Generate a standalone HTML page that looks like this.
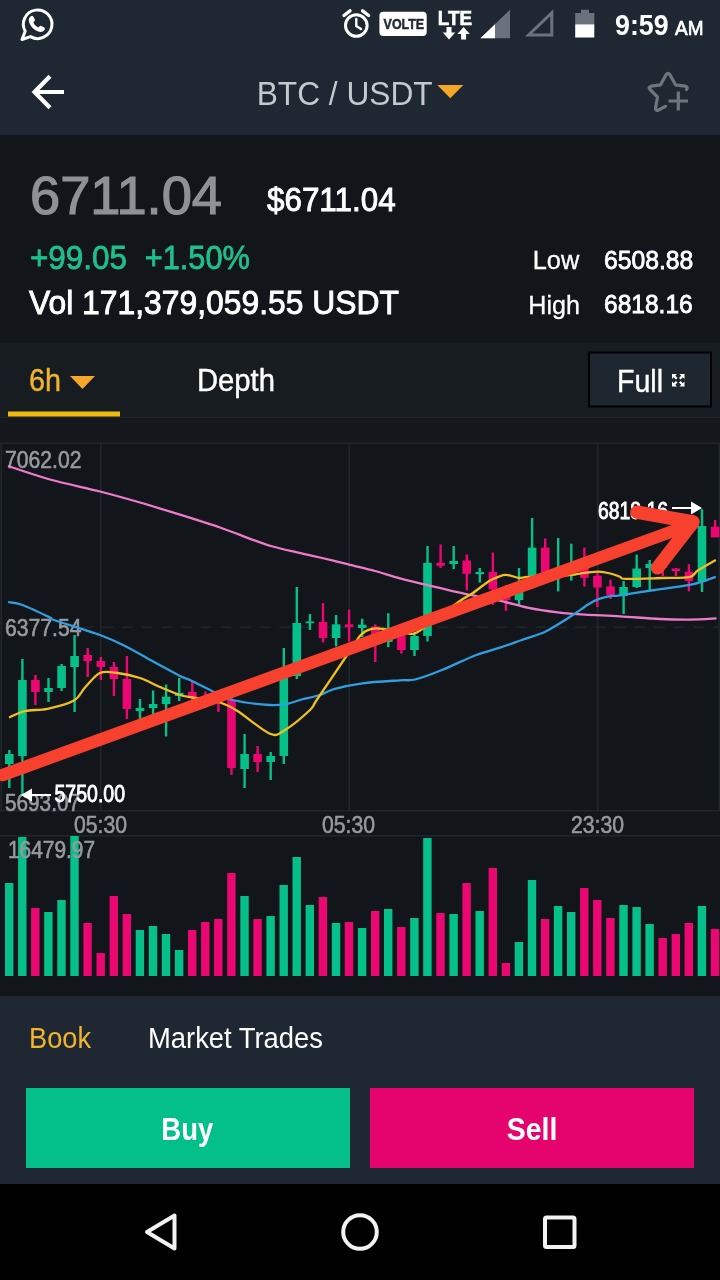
<!DOCTYPE html>
<html><head><meta charset="utf-8"><title>BTC / USDT</title>
<style>
*{margin:0;padding:0;box-sizing:border-box}
html,body{width:720px;height:1280px;overflow:hidden;background:#12161b}
body{position:relative;font-family:"Liberation Sans",sans-serif;color:#fff}
.hdr{position:absolute;left:0;top:0;width:720px;height:135px;background:#1f2832}
.info{position:absolute;left:0;top:135px;width:720px;height:208px;background:#12161b}
.tabs{position:absolute;left:0;top:343px;width:720px;height:74px;background:#171c21}
.chart{position:absolute;left:0;top:417px}
.panel{position:absolute;left:0;top:996px;width:720px;height:188px;background:#1f2832}
.nav{position:absolute;left:0;top:1184px;width:720px;height:96px;background:#000}
.ov{position:absolute;left:0;top:0}
</style></head><body>
<div class="hdr"></div>
<div class="info"></div>
<div class="tabs"></div>
<svg class="chart" width="720" height="580" viewBox="0 417 720 580">
<rect x="0" y="417" width="720" height="26" fill="#14181d"/>
<rect x="0" y="417" width="720" height="1" fill="#20252b"/>
<g fill="#21262b">
<rect x="0" y="442.5" width="720" height="1.5"/>
<rect x="0" y="810" width="720" height="1.5"/>
<rect x="0" y="835" width="720" height="1.5"/>
<rect x="0.5" y="443" width="1.5" height="368"/>
<rect x="100" y="443" width="1.5" height="368"/>
<rect x="348.5" y="443" width="1.5" height="368"/>
<rect x="597" y="443" width="1.5" height="368"/>
<rect x="718.5" y="443" width="1.5" height="368"/>
</g>
<line x1="82.5" y1="627.2" x2="720" y2="627.2" stroke="#1e2329" stroke-width="2" stroke-dasharray="11 8.7"/>
<rect x="5.0" y="883" width="8.4" height="93" fill="#05c088"/>
<rect x="18.1" y="837" width="8.4" height="139" fill="#05c088"/>
<rect x="31.1" y="908" width="8.4" height="68" fill="#ea0772"/>
<rect x="44.2" y="912" width="8.4" height="64" fill="#05c088"/>
<rect x="57.3" y="900" width="8.4" height="76" fill="#05c088"/>
<rect x="70.3" y="836" width="8.4" height="140" fill="#05c088"/>
<rect x="83.4" y="923" width="8.4" height="53" fill="#ea0772"/>
<rect x="96.5" y="953" width="8.4" height="23" fill="#ea0772"/>
<rect x="109.6" y="896" width="8.4" height="80" fill="#ea0772"/>
<rect x="122.6" y="914" width="8.4" height="62" fill="#ea0772"/>
<rect x="135.7" y="930" width="8.4" height="46" fill="#05c088"/>
<rect x="148.8" y="926" width="8.4" height="50" fill="#05c088"/>
<rect x="161.8" y="934" width="8.4" height="42" fill="#05c088"/>
<rect x="174.9" y="950" width="8.4" height="26" fill="#05c088"/>
<rect x="188.0" y="930" width="8.4" height="46" fill="#ea0772"/>
<rect x="201.1" y="922" width="8.4" height="54" fill="#ea0772"/>
<rect x="214.1" y="919" width="8.4" height="57" fill="#ea0772"/>
<rect x="227.2" y="873" width="8.4" height="103" fill="#ea0772"/>
<rect x="240.3" y="896" width="8.4" height="80" fill="#05c088"/>
<rect x="253.3" y="919" width="8.4" height="57" fill="#ea0772"/>
<rect x="266.4" y="916" width="8.4" height="60" fill="#05c088"/>
<rect x="279.5" y="885" width="8.4" height="91" fill="#05c088"/>
<rect x="292.5" y="857" width="8.4" height="119" fill="#05c088"/>
<rect x="305.6" y="905" width="8.4" height="71" fill="#05c088"/>
<rect x="318.7" y="897" width="8.4" height="79" fill="#ea0772"/>
<rect x="331.8" y="923" width="8.4" height="53" fill="#05c088"/>
<rect x="344.8" y="922" width="8.4" height="54" fill="#ea0772"/>
<rect x="357.9" y="928" width="8.4" height="48" fill="#05c088"/>
<rect x="371.0" y="911" width="8.4" height="65" fill="#ea0772"/>
<rect x="384.0" y="909" width="8.4" height="67" fill="#05c088"/>
<rect x="397.1" y="927" width="8.4" height="49" fill="#ea0772"/>
<rect x="410.2" y="918" width="8.4" height="58" fill="#05c088"/>
<rect x="423.2" y="838" width="8.4" height="138" fill="#05c088"/>
<rect x="436.3" y="913" width="8.4" height="63" fill="#ea0772"/>
<rect x="449.4" y="914" width="8.4" height="62" fill="#05c088"/>
<rect x="462.4" y="883" width="8.4" height="93" fill="#ea0772"/>
<rect x="475.5" y="911" width="8.4" height="65" fill="#05c088"/>
<rect x="488.6" y="868" width="8.4" height="108" fill="#ea0772"/>
<rect x="501.7" y="963" width="8.4" height="13" fill="#ea0772"/>
<rect x="514.7" y="942" width="8.4" height="34" fill="#05c088"/>
<rect x="527.8" y="880" width="8.4" height="96" fill="#05c088"/>
<rect x="540.9" y="919" width="8.4" height="57" fill="#ea0772"/>
<rect x="553.9" y="906" width="8.4" height="70" fill="#05c088"/>
<rect x="567.0" y="912" width="8.4" height="64" fill="#05c088"/>
<rect x="580.1" y="888" width="8.4" height="88" fill="#ea0772"/>
<rect x="593.1" y="900" width="8.4" height="76" fill="#ea0772"/>
<rect x="606.2" y="918" width="8.4" height="58" fill="#ea0772"/>
<rect x="619.3" y="905" width="8.4" height="71" fill="#05c088"/>
<rect x="632.4" y="907" width="8.4" height="69" fill="#05c088"/>
<rect x="645.4" y="924" width="8.4" height="52" fill="#05c088"/>
<rect x="658.5" y="938" width="8.4" height="38" fill="#ea0772"/>
<rect x="671.6" y="934" width="8.4" height="42" fill="#ea0772"/>
<rect x="684.6" y="923" width="8.4" height="53" fill="#ea0772"/>
<rect x="697.7" y="906" width="8.4" height="70" fill="#05c088"/>
<rect x="710.8" y="929" width="8.4" height="47" fill="#ea0772"/>
<rect x="8.1" y="750" width="2.4" height="38" fill="#05c088"/>
<rect x="5.0" y="754" width="8.6" height="10" fill="#05c088"/>
<rect x="21.2" y="659" width="2.4" height="136" fill="#05c088"/>
<rect x="18.1" y="680" width="8.6" height="76" fill="#05c088"/>
<rect x="34.2" y="675" width="2.4" height="30" fill="#ea0772"/>
<rect x="31.1" y="680" width="8.6" height="12" fill="#ea0772"/>
<rect x="47.3" y="678" width="2.4" height="24" fill="#05c088"/>
<rect x="44.2" y="688" width="8.6" height="4" fill="#05c088"/>
<rect x="60.4" y="664" width="2.4" height="27" fill="#05c088"/>
<rect x="57.3" y="666" width="8.6" height="22" fill="#05c088"/>
<rect x="73.4" y="635" width="2.4" height="77" fill="#05c088"/>
<rect x="70.3" y="656" width="8.6" height="11" fill="#05c088"/>
<rect x="86.5" y="648" width="2.4" height="29" fill="#ea0772"/>
<rect x="83.4" y="655" width="8.6" height="6" fill="#ea0772"/>
<rect x="99.6" y="657" width="2.4" height="23" fill="#ea0772"/>
<rect x="96.5" y="661" width="8.6" height="6" fill="#ea0772"/>
<rect x="112.7" y="662" width="2.4" height="34" fill="#ea0772"/>
<rect x="109.6" y="667" width="8.6" height="12" fill="#ea0772"/>
<rect x="125.7" y="656" width="2.4" height="63" fill="#ea0772"/>
<rect x="122.6" y="679" width="8.6" height="30" fill="#ea0772"/>
<rect x="138.8" y="699" width="2.4" height="20" fill="#05c088"/>
<rect x="135.7" y="708" width="8.6" height="3" fill="#05c088"/>
<rect x="151.9" y="690.5" width="2.4" height="23.5" fill="#05c088"/>
<rect x="148.8" y="704" width="8.6" height="4" fill="#05c088"/>
<rect x="164.9" y="684.5" width="2.4" height="52.0" fill="#05c088"/>
<rect x="161.8" y="696.7" width="8.6" height="7.2999999999999545" fill="#05c088"/>
<rect x="178.0" y="678" width="2.4" height="23" fill="#05c088"/>
<rect x="174.9" y="692.8" width="8.6" height="3.2000000000000455" fill="#05c088"/>
<rect x="191.1" y="682" width="2.4" height="23" fill="#ea0772"/>
<rect x="188.0" y="692" width="8.6" height="5" fill="#ea0772"/>
<rect x="204.2" y="691.5" width="2.4" height="16.5" fill="#ea0772"/>
<rect x="201.1" y="696" width="8.6" height="5" fill="#ea0772"/>
<rect x="217.2" y="690" width="2.4" height="22" fill="#ea0772"/>
<rect x="214.1" y="698" width="8.6" height="5" fill="#ea0772"/>
<rect x="230.3" y="697" width="2.4" height="78" fill="#ea0772"/>
<rect x="227.2" y="700" width="8.6" height="68" fill="#ea0772"/>
<rect x="243.4" y="734" width="2.4" height="54" fill="#05c088"/>
<rect x="240.3" y="754" width="8.6" height="15" fill="#05c088"/>
<rect x="256.4" y="746" width="2.4" height="26" fill="#ea0772"/>
<rect x="253.3" y="754" width="8.6" height="8" fill="#ea0772"/>
<rect x="269.5" y="752" width="2.4" height="28" fill="#05c088"/>
<rect x="266.4" y="756" width="8.6" height="6" fill="#05c088"/>
<rect x="282.6" y="648" width="2.4" height="116" fill="#05c088"/>
<rect x="279.5" y="678" width="8.6" height="78" fill="#05c088"/>
<rect x="295.6" y="587" width="2.4" height="92" fill="#05c088"/>
<rect x="292.5" y="623" width="8.6" height="53" fill="#05c088"/>
<rect x="308.7" y="614" width="2.4" height="16" fill="#05c088"/>
<rect x="305.6" y="621.5" width="8.6" height="1.7000000000000455" fill="#05c088"/>
<rect x="321.8" y="603" width="2.4" height="39.5" fill="#ea0772"/>
<rect x="318.7" y="622" width="8.6" height="16" fill="#ea0772"/>
<rect x="334.9" y="615" width="2.4" height="31.5" fill="#05c088"/>
<rect x="331.8" y="624.3" width="8.6" height="13.700000000000045" fill="#05c088"/>
<rect x="347.9" y="609.7" width="2.4" height="32.0" fill="#ea0772"/>
<rect x="344.8" y="624.3" width="8.6" height="2.900000000000091" fill="#ea0772"/>
<rect x="361.0" y="618.7" width="2.4" height="18.299999999999955" fill="#05c088"/>
<rect x="357.9" y="624.7" width="8.6" height="3.2999999999999545" fill="#05c088"/>
<rect x="374.1" y="624.3" width="2.4" height="37.700000000000045" fill="#ea0772"/>
<rect x="371.0" y="626.4" width="8.6" height="13.600000000000023" fill="#ea0772"/>
<rect x="387.1" y="613.2" width="2.4" height="34.0" fill="#05c088"/>
<rect x="384.0" y="630" width="8.6" height="12" fill="#05c088"/>
<rect x="400.2" y="630" width="2.4" height="23.700000000000045" fill="#ea0772"/>
<rect x="397.1" y="635" width="8.6" height="15" fill="#ea0772"/>
<rect x="413.3" y="632" width="2.4" height="24" fill="#05c088"/>
<rect x="410.2" y="636" width="8.6" height="14" fill="#05c088"/>
<rect x="426.3" y="546" width="2.4" height="95.5" fill="#05c088"/>
<rect x="423.2" y="562.8" width="8.6" height="73.20000000000005" fill="#05c088"/>
<rect x="439.4" y="544.4" width="2.4" height="23.600000000000023" fill="#ea0772"/>
<rect x="436.3" y="562.8" width="8.6" height="3.0" fill="#ea0772"/>
<rect x="452.5" y="546" width="2.4" height="23" fill="#05c088"/>
<rect x="449.4" y="561" width="8.6" height="3" fill="#05c088"/>
<rect x="465.6" y="554.4" width="2.4" height="35.89999999999998" fill="#ea0772"/>
<rect x="462.4" y="560.5" width="8.6" height="13.299999999999955" fill="#ea0772"/>
<rect x="478.6" y="568" width="2.4" height="14.600000000000023" fill="#05c088"/>
<rect x="475.5" y="572" width="8.6" height="2.2000000000000455" fill="#05c088"/>
<rect x="491.7" y="552.5" width="2.4" height="52.5" fill="#ea0772"/>
<rect x="488.6" y="572" width="8.6" height="17.5" fill="#ea0772"/>
<rect x="504.8" y="585" width="2.4" height="25.799999999999955" fill="#ea0772"/>
<rect x="501.7" y="588" width="8.6" height="12" fill="#ea0772"/>
<rect x="517.8" y="568" width="2.4" height="37" fill="#05c088"/>
<rect x="514.7" y="591.4" width="8.6" height="8.600000000000023" fill="#05c088"/>
<rect x="530.9" y="518" width="2.4" height="62" fill="#05c088"/>
<rect x="527.8" y="547.6" width="8.6" height="28.199999999999932" fill="#05c088"/>
<rect x="544.0" y="538.5" width="2.4" height="39.5" fill="#ea0772"/>
<rect x="540.9" y="547.6" width="8.6" height="24.399999999999977" fill="#ea0772"/>
<rect x="557.0" y="538" width="2.4" height="53.39999999999998" fill="#05c088"/>
<rect x="553.9" y="574.5" width="8.6" height="1.5" fill="#05c088"/>
<rect x="570.1" y="543.7" width="2.4" height="37.0" fill="#05c088"/>
<rect x="567.0" y="574.3" width="8.6" height="1.5" fill="#05c088"/>
<rect x="583.2" y="547.6" width="2.4" height="38.89999999999998" fill="#ea0772"/>
<rect x="580.1" y="568" width="8.6" height="9.799999999999955" fill="#ea0772"/>
<rect x="596.2" y="572" width="2.4" height="35" fill="#ea0772"/>
<rect x="593.1" y="575.8" width="8.6" height="11.700000000000045" fill="#ea0772"/>
<rect x="609.3" y="579.7" width="2.4" height="19.299999999999955" fill="#ea0772"/>
<rect x="606.2" y="586.5" width="8.6" height="8.799999999999955" fill="#ea0772"/>
<rect x="622.4" y="581" width="2.4" height="33" fill="#05c088"/>
<rect x="619.3" y="587" width="8.6" height="9" fill="#05c088"/>
<rect x="635.5" y="554.6" width="2.4" height="33.39999999999998" fill="#05c088"/>
<rect x="632.4" y="568.5" width="8.6" height="18.5" fill="#05c088"/>
<rect x="648.5" y="560" width="2.4" height="30" fill="#05c088"/>
<rect x="645.4" y="564" width="8.6" height="4" fill="#05c088"/>
<rect x="661.6" y="563" width="2.4" height="13" fill="#ea0772"/>
<rect x="658.5" y="565" width="8.6" height="3" fill="#ea0772"/>
<rect x="674.7" y="568" width="2.4" height="8" fill="#ea0772"/>
<rect x="671.6" y="568.5" width="8.6" height="2.5" fill="#ea0772"/>
<rect x="687.7" y="564.2" width="2.4" height="27.199999999999932" fill="#ea0772"/>
<rect x="684.6" y="571.7" width="8.6" height="9.299999999999955" fill="#ea0772"/>
<rect x="700.8" y="509.2" width="2.4" height="82.80000000000001" fill="#05c088"/>
<rect x="697.7" y="526" width="8.6" height="55.60000000000002" fill="#05c088"/>
<rect x="713.9" y="520" width="2.4" height="17" fill="#ea0772"/>
<rect x="710.8" y="526.8" width="8.6" height="10.600000000000023" fill="#ea0772"/>
<g font-family="Liberation Sans, sans-serif" font-size="23" fill="#969a9f" stroke="#969a9f" stroke-width="0.6">
<text x="5" y="467.5" textLength="76.5" lengthAdjust="spacingAndGlyphs">7062.02</text>
<text x="5" y="636" textLength="76.5" lengthAdjust="spacingAndGlyphs">6377.54</text>
<text x="5" y="811" textLength="75" lengthAdjust="spacingAndGlyphs">5693.07</text>
<text x="74" y="832.5" textLength="53" lengthAdjust="spacingAndGlyphs">05:30</text>
<text x="322" y="832.5" textLength="53" lengthAdjust="spacingAndGlyphs">05:30</text>
<text x="571" y="832.5" textLength="53" lengthAdjust="spacingAndGlyphs">23:30</text>
<text x="8" y="857.5" textLength="87" lengthAdjust="spacingAndGlyphs">16479.97</text>
</g>
<path d="M8.0 466.0 C14.7 468.2 35.3 475.4 50.0 479.5 C64.7 483.6 85.6 487.8 100.0 491.5 C114.4 495.2 127.2 498.8 140.0 502.5 C152.8 506.2 167.2 510.7 180.0 514.7 C192.8 518.7 208.8 523.7 220.0 527.5 C231.2 531.3 241.9 535.8 250.0 538.8 C258.1 541.7 264.1 544.0 270.8 546.0 C277.5 548.0 285.0 549.7 291.7 551.2 C298.4 552.8 305.8 554.3 312.5 555.8 C319.2 557.3 327.3 559.2 333.3 560.6 C339.3 562.0 343.3 563.1 350.0 564.8 C356.7 566.5 367.0 568.8 375.0 571.0 C383.0 573.2 391.7 576.1 400.0 578.3 C408.3 580.5 416.1 582.4 426.7 584.9 C437.3 587.4 455.1 591.7 466.4 594.1 C477.7 596.5 487.5 597.9 497.5 600.1 C507.5 602.3 519.0 605.9 528.6 607.9 C538.2 609.9 548.8 611.3 557.8 612.4 C566.8 613.5 575.0 614.1 585.0 614.7 C595.0 615.3 608.0 615.6 620.0 616.3 C632.0 617.0 648.8 618.5 660.0 619.0 C671.2 619.5 681.0 619.7 690.0 619.6 C699.0 619.5 712.3 618.6 716.5 618.4" fill="none" stroke="#ee7acb" stroke-width="2.3" stroke-linejoin="round"/>
<path d="M8.0 602.0 C10.3 602.5 15.8 602.5 22.5 605.0 C29.2 607.5 45.0 615.1 50.0 617.5 C55.0 619.9 46.0 617.2 54.0 620.0 C62.0 622.8 88.6 630.8 100.0 635.0 C111.4 639.2 116.2 641.6 125.0 646.0 C133.8 650.4 146.2 657.7 155.0 662.5 C163.8 667.3 174.4 673.2 180.0 676.0 C185.6 678.8 185.2 677.8 190.0 680.0 C194.8 682.2 203.2 686.8 210.0 690.0 C216.8 693.2 222.9 697.6 232.5 700.0 C242.1 702.4 261.2 704.4 270.0 705.0 C278.8 705.6 282.7 704.5 287.5 703.8 C292.3 703.0 294.8 701.4 300.0 700.0 C305.2 698.6 314.4 696.8 320.0 695.0 C325.6 693.2 327.9 690.8 334.7 688.9 C341.5 687.0 352.1 684.7 362.5 683.3 C372.9 681.9 391.6 680.9 400.0 680.3 C408.4 679.7 408.3 681.1 415.0 679.5 C421.7 677.9 432.3 673.9 442.0 670.0 C451.7 666.1 466.3 658.8 475.6 655.2 C484.9 651.6 492.6 650.0 500.0 647.6 C507.4 645.2 514.7 642.5 521.8 640.0 C528.9 637.5 538.4 634.7 544.2 632.2 C550.0 629.7 553.1 627.2 557.8 624.4 C562.5 621.6 568.3 618.0 573.3 614.7 C578.3 611.4 584.9 606.5 588.9 604.0 C592.9 601.5 595.2 600.4 598.6 599.2 C602.0 598.0 606.9 596.8 610.3 596.2 C613.7 595.6 612.9 596.3 620.0 595.3 C627.1 594.3 643.2 591.7 654.7 590.0 C666.2 588.3 682.2 586.5 692.0 584.4 C701.8 582.3 712.0 578.0 715.8 576.8" fill="none" stroke="#2f9fe0" stroke-width="2.3" stroke-linejoin="round"/>
<path d="M9.0 717.5 C11.6 716.5 18.8 712.4 25.0 711.0 C31.2 709.6 39.7 710.4 47.5 708.8 C55.3 707.1 68.0 703.9 74.0 700.5 C80.0 697.1 80.8 691.9 85.0 687.5 C89.2 683.1 94.8 675.3 100.0 673.0 C105.2 670.7 111.1 672.2 117.5 673.0 C123.9 673.8 133.2 675.8 140.0 678.0 C146.8 680.2 153.6 684.3 160.0 687.0 C166.4 689.7 174.8 693.3 180.0 695.0 C185.2 696.7 186.1 696.3 192.5 697.5 C198.9 698.7 212.8 700.3 220.0 702.5 C227.2 704.7 229.5 706.0 237.5 711.0 C245.5 716.0 262.4 730.7 270.0 733.8 C277.6 736.8 278.6 733.8 285.0 730.0 C291.4 726.2 304.9 714.8 310.0 710.0 C315.1 705.2 311.0 708.5 316.7 700.0 C322.4 691.5 338.7 667.4 345.8 657.0 C352.9 646.6 356.8 639.2 361.0 634.7 C365.2 630.2 368.5 629.8 372.0 628.9 C375.5 628.0 376.9 628.2 383.0 629.0 C389.1 629.8 404.7 633.2 409.9 633.8 C415.1 634.4 413.1 633.8 415.2 633.0 C417.3 632.2 415.8 633.5 422.8 628.5 C429.8 623.5 450.8 607.3 458.8 601.7 C466.8 596.1 468.4 596.1 472.5 593.3 C476.6 590.5 481.6 586.4 484.7 584.2 C487.8 582.0 488.4 581.2 491.7 579.7 C495.0 578.2 500.9 575.2 505.3 574.9 C509.7 574.6 515.2 577.5 518.9 577.8 C522.6 578.1 521.8 577.1 528.6 576.8 C535.4 576.5 552.7 576.4 561.7 575.8 C570.7 575.2 579.1 573.6 585.0 572.9 C590.9 572.2 594.6 571.5 598.6 571.6 C602.6 571.7 606.9 572.7 610.3 573.5 C613.7 574.3 617.6 575.9 620.0 576.8 C622.4 577.7 618.8 578.7 625.5 578.9 C632.2 579.1 651.8 578.3 662.0 578.0 C672.2 577.7 683.7 578.4 689.4 577.2 C695.1 576.0 693.6 573.3 697.8 570.5 C702.0 567.7 712.9 561.7 715.8 560.0" fill="none" stroke="#f0c020" stroke-width="2.3" stroke-linejoin="round"/>
<g font-family="Liberation Sans, sans-serif" font-size="23" fill="#ffffff" stroke="#ffffff" stroke-width="0.9">
<text x="54.5" y="802" textLength="70.5" lengthAdjust="spacingAndGlyphs">5750.00</text>
<text x="598" y="519" textLength="70" lengthAdjust="spacingAndGlyphs">6818.16</text>
</g>
<path d="M21 795 L32 788.5 L32 794 L51 794 L51 796 L32 796 L32 801.5 Z" fill="#fff"/>
<path d="M702 508 L691 501.5 L691 507 L672 507 L672 509 L691 509 L691 514.5 Z" fill="#fff"/>
<g stroke="#f8402f" stroke-width="13.5" stroke-linecap="round" stroke-linejoin="round" fill="none">
<path d="M2.5 775.1 L692.5 524" stroke-width="12.4"/>
<path d="M637 512.2 L693 522 L657.5 567.8"/>
</g>
</svg>
<div class="panel"></div>
<div class="nav"></div>
<svg class="ov" width="720" height="1280" viewBox="0 0 720 1280" font-family="Liberation Sans, sans-serif">
<g fill="none" stroke="#fff" stroke-width="3" stroke-linejoin="round"><path d="M22 39.5 L25.2 31.2 A14.3 14.3 0 1 1 30.5 36.6 Z"/></g>
<path d="M30.5 16.5 c1.2-1.2 2.2-1 2.8 0 l1.5 3 c0.3 0.8 0 1.4-0.6 2 l-0.9 0.9 c1 2.3 2.8 4 5 5 l1-1 c0.6-0.6 1.3-0.8 2-0.4 l2.9 1.6 c0.9 0.6 1 1.6 0 2.7 c-1.6 1.7-3.6 2-6 1.100 c-4.300-1.600-7.500-4.800-9-9 c-0.800-2.300-0.500-4.300 1.300-5.900 z" fill="#fff"/>
<g fill="none" stroke="#fff" stroke-width="3" stroke-linecap="round"><circle cx="356.3" cy="25.5" r="10.8"/><path d="M356.3 19 V26 L361 29" stroke-width="2.4"/><path d="M344 15.500 L350 10.800 M368.600 15.500 L362.600 10.800" stroke-width="3.4"/></g>
<rect x="379.4" y="11.7" width="47.3" height="24.3" rx="4" fill="#fff"/>
<text x="383.6" y="29.2" font-size="14.5" fill="#1f2732" font-weight="bold" textLength="40.5" lengthAdjust="spacingAndGlyphs" stroke="#1f2732" stroke-width="0.5">VOLTE</text>
<text x="437.8" y="24.5" font-size="20" fill="#fff" font-weight="bold" textLength="34.2" lengthAdjust="spacingAndGlyphs" stroke="#fff" stroke-width="0.6">LTE</text>
<path d="M446.500 27 h5 v5.500 h3.700 l-6.200 7 l-6.200-7 h3.700 z" fill="#fff"/>
<path d="M461.100 39.500 h5 v-5.500 h3.700 l-6.200-7 l-6.200 7 h3.700 z" fill="#fff"/>
<path d="M480.400 38.200 L510 9.700 V38.200 Z" fill="#6a727d"/>
<path d="M480.400 38.200 L495 24.140 V38.200 Z" fill="#fff"/>
<path d="M524.900 36.500 L553.300 9.200 V36.500 Z M532.350 33.500 L550.300 16.250 V33.500 Z" fill="#6a727d" fill-rule="evenodd"/>
<path d="M581 9.700 h8 v3.300 h5.300 v11.300 h-19.100 v-11.300 h5.800 z" fill="#6a727d"/>
<rect x="575.200" y="24.300" width="19.100" height="13.200" fill="#fff"/>
<text x="615" y="35.4" font-size="29" fill="#fff" font-weight="bold" textLength="53.6" lengthAdjust="spacingAndGlyphs">9:59</text>
<text x="675" y="35.4" font-size="19.5" fill="#fff" font-weight="normal" textLength="28.4" lengthAdjust="spacingAndGlyphs" stroke="#fff" stroke-width="0.7">AM</text>
<path d="M64 92 H35 M50 76.200 L34.500 92 L50 107.800" fill="none" stroke="#fff" stroke-width="4.200" stroke-linecap="butt" stroke-linejoin="miter"/>
<text x="256.7" y="105" font-size="34" fill="#c5c9cd" font-weight="normal" textLength="176" lengthAdjust="spacingAndGlyphs">BTC / USDT</text>
<path d="M437.300 85 H463.300 L450.300 98.300 Z" fill="#f5a72a"/>
<g fill="none" stroke="#70757b" stroke-width="3.200" stroke-linecap="round" stroke-linejoin="round"><path d="M686.500 89.500 Q688.500 86.800 685 86.200 L675.500 84.800 L669.800 74.500 Q668 72.300 666.200 74.500 L660.600 84.800 L651 86.200 Q647.800 87 650 89.500 L657.500 97 L655.500 108.300 Q655.500 111.300 658.500 110 L665.500 106.300"/><path d="M668.500 101 H688 M678.300 91.500 V110.500" stroke-linecap="butt"/></g>
<text x="30" y="214" font-size="53" fill="#8e9297" font-weight="normal" textLength="192" lengthAdjust="spacingAndGlyphs" stroke="#8e9297" stroke-width="1.2">6711.04</text>
<text x="267" y="210.7" font-size="33" fill="#fff" font-weight="normal" textLength="128.6" lengthAdjust="spacingAndGlyphs" stroke="#fff" stroke-width="0.9">$6711.04</text>
<text x="30" y="269" font-size="33.5" fill="#20bf8b" font-weight="normal" textLength="97" lengthAdjust="spacingAndGlyphs" stroke="#20bf8b" stroke-width="0.8">+99.05</text>
<text x="144.7" y="269" font-size="33.5" fill="#20bf8b" font-weight="normal" textLength="105.3" lengthAdjust="spacingAndGlyphs" stroke="#20bf8b" stroke-width="0.8">+1.50%</text>
<text x="29" y="314" font-size="33.5" fill="#fff" font-weight="normal" textLength="370" lengthAdjust="spacingAndGlyphs" stroke="#fff" stroke-width="0.9">Vol 171,379,059.55 USDT</text>
<text x="532.7" y="269.3" font-size="26" fill="#fff" font-weight="normal" textLength="46.6" lengthAdjust="spacingAndGlyphs" stroke="#fff" stroke-width="0.3">Low</text>
<text x="604" y="269.3" font-size="26.5" fill="#fff" font-weight="normal" textLength="89.3" lengthAdjust="spacingAndGlyphs" stroke="#fff" stroke-width="0.8">6508.88</text>
<text x="528.3" y="313.6" font-size="26" fill="#fff" font-weight="normal" textLength="51.7" lengthAdjust="spacingAndGlyphs" stroke="#fff" stroke-width="0.3">High</text>
<text x="604" y="313.4" font-size="26.5" fill="#fff" font-weight="normal" textLength="88.7" lengthAdjust="spacingAndGlyphs" stroke="#fff" stroke-width="0.8">6818.16</text>
<text x="29" y="391" font-size="30.5" fill="#f0b42d" font-weight="normal" textLength="32" lengthAdjust="spacingAndGlyphs" stroke="#f0b42d" stroke-width="0.4">6h</text>
<path d="M70 376 H95 L82.500 389 Z" fill="#f5a72a"/>
<rect x="8" y="411.500" width="112" height="5" fill="#f0b90f"/>
<text x="197" y="391" font-size="30.5" fill="#fff" font-weight="normal" textLength="78" lengthAdjust="spacingAndGlyphs" stroke="#fff" stroke-width="0.4">Depth</text>
<rect x="589" y="352.500" width="122" height="54" fill="#1e2630" stroke="#000" stroke-width="2"/>
<text x="617" y="391.5" font-size="30.5" fill="#fff" font-weight="normal" textLength="46" lengthAdjust="spacingAndGlyphs" stroke="#fff" stroke-width="0.4">Full</text>
<g fill="#fff"><path d="M672 374 h5 l-1.700 1.700 l2.200 2.200 l-1.600 1.600 l-2.200-2.200 l-1.700 1.700 z"/><path d="M684.500 374 v5 l-1.700-1.700 l-2.200 2.200 l-1.600-1.600 l2.200-2.200 l-1.700-1.700 z"/><path d="M672 386.500 v-5 l1.700 1.700 l2.200-2.200 l1.600 1.600 l-2.200 2.200 l1.700 1.700 z"/><path d="M684.500 386.500 h-5 l1.700-1.700 l-2.200-2.200 l1.600-1.600 l2.200 2.200 l1.700-1.700 z"/></g>
<text x="29" y="1047.5" font-size="28.6" fill="#f0b42d" font-weight="normal" textLength="62" lengthAdjust="spacingAndGlyphs">Book</text>
<text x="148" y="1047.5" font-size="28.6" fill="#fff" font-weight="normal" textLength="175" lengthAdjust="spacingAndGlyphs">Market Trades</text>
<rect x="26" y="1088" width="324" height="80" fill="#02c087"/>
<rect x="370" y="1088" width="324" height="80" fill="#e5046d"/>
<text x="161.3" y="1140" font-size="32" fill="#fff" font-weight="bold" textLength="52" lengthAdjust="spacingAndGlyphs">Buy</text>
<text x="506.7" y="1140" font-size="32" fill="#fff" font-weight="bold" textLength="50.6" lengthAdjust="spacingAndGlyphs">Sell</text>
<g fill="none" stroke="#f2f2f2" stroke-width="4" stroke-linejoin="round"><path d="M174.500 1215.500 V1248.500 L147 1232 Z"/><circle cx="360" cy="1232" r="16.800"/><rect x="545" y="1217.500" width="29.500" height="29.500" rx="1.500"/></g>
</svg>
</body></html>
